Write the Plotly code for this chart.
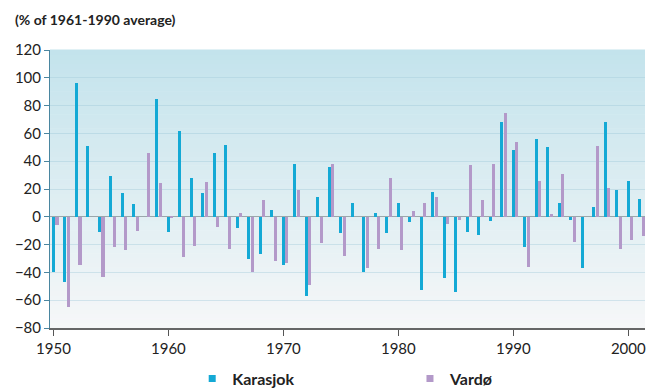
import plotly.graph_objects as go

# Annual precipitation, % deviation from the 1961-1990 average
years = list(range(1950, 2002))
karasjok = [-40, -47, 96, 51, -11, 29, 17, 9, 0, 85,
            -11, 62, 28, 17, 46, 52, -8, -30, -27, 5,
            -35, 38, -57, 14, 36, -12, 10, -40, 3, -12,
            10, -4, -53, 18, -44, -54, -11, -13, -3, 68,
            48, -22, 56, 50, 10, -2, -37, 7, 68, 19,
            26, 13]
vardo = [-6, -65, -35, 0, -43, -22, -24, -10, 46, 24,
         -1, -29, -21, 25, -7, -23, 3, -40, 12, -32,
         -33, 19, -49, -19, 38, -28, 0, -37, -23, 28,
         -24, 4, 10, 14, -5, -2, 37, 12, 38, 75,
         54, -36, 26, 2, 31, -18, 0, 51, 21, -23,
         -17, -14]

y_ticks = list(range(-80, 121, 20))
x_ticks = list(range(1950, 2001, 10))

CYAN = "#14a9d5"
PURPLE = "#b399c9"
FONT = "Lato"

fig = go.Figure()
fig.add_trace(go.Bar(x=years, y=karasjok, name="Karasjok", marker_color=CYAN,
                     marker_line_width=0, width=0.27, offset=-0.14,
                     showlegend=False, legendgroup="k"))
fig.add_trace(go.Bar(x=years, y=vardo, name="Vardø", marker_color=PURPLE,
                     marker_line_width=0, width=0.29, offset=0.15,
                     showlegend=False, legendgroup="v"))

# legend entries with small square keys
fig.add_trace(go.Scatter(x=[None], y=[None], mode="markers", name="Karasjok",
                         legendgroup="k", legend="legend",
                         marker=dict(symbol="square", size=7, color=CYAN)))
fig.add_trace(go.Scatter(x=[None], y=[None], mode="markers", name="Vardø",
                         legendgroup="v", legend="legend2",
                         marker=dict(symbol="square", size=7, color=PURPLE)))

# vertical gradient behind the plot area
top = (195, 227, 236)
bottom = (246, 247, 248)
n = 60
shapes = []
for i in range(n):
    t = (i + 0.5) / n
    c = tuple(round(bottom[k] + (top[k] - bottom[k]) * t) for k in range(3))
    shapes.append(dict(type="rect", xref="paper", yref="paper",
                       x0=0, x1=1, y0=i / n, y1=(i + 1) / n + 0.002,
                       fillcolor="rgb(%d,%d,%d)" % c, line_width=0, layer="below"))

legend_font = dict(family=FONT, size=16, color="#222", weight="bold")
legend_common = dict(orientation="h", y=-0.182, xanchor="left", yanchor="middle",
                     font=legend_font, bgcolor="rgba(0,0,0,0)", itemwidth=30)

fig.update_layout(
    width=659, height=391,
    margin=dict(l=50, r=14, t=50, b=63, autoexpand=False),
    paper_bgcolor="white",
    plot_bgcolor="rgba(0,0,0,0)",
    barmode="overlay",
    bargap=0,
    shapes=shapes,
    font=dict(family=FONT, size=14, color="#222"),
    showlegend=True,
    legend=dict(x=0.239, **legend_common),
    legend2=dict(x=0.605, **legend_common),
    annotations=[dict(text="(% of 1961-1990 average)", xref="paper", yref="paper",
                      x=-0.063, y=1.108, xanchor="left", yanchor="middle",
                      showarrow=False, font=dict(family=FONT, size=14, color="#222",
                                                 weight="bold"))],
)

fig.update_yaxes(range=[-80, 120], tickvals=y_ticks, ticks="outside", ticklen=5,
                 tickcolor="#4a86a0", showline=True, linecolor="#4a86a0", linewidth=1,
                 showgrid=True, gridcolor="rgba(150,195,212,0.35)", gridwidth=1,
                 zeroline=True, zerolinecolor="#9aa7ab", zerolinewidth=1,
                 tickfont=dict(family=FONT, size=15, color="#222"))
fig.update_xaxes(range=[1949.7, 2001.45], tickvals=x_ticks, ticks="outside", ticklen=6,
                 tickcolor="#555", showline=True, linecolor="#666", linewidth=1.5,
                 showgrid=False, zeroline=False,
                 tickfont=dict(family=FONT, size=15, color="#222"))

fig.write_html("out.html")
